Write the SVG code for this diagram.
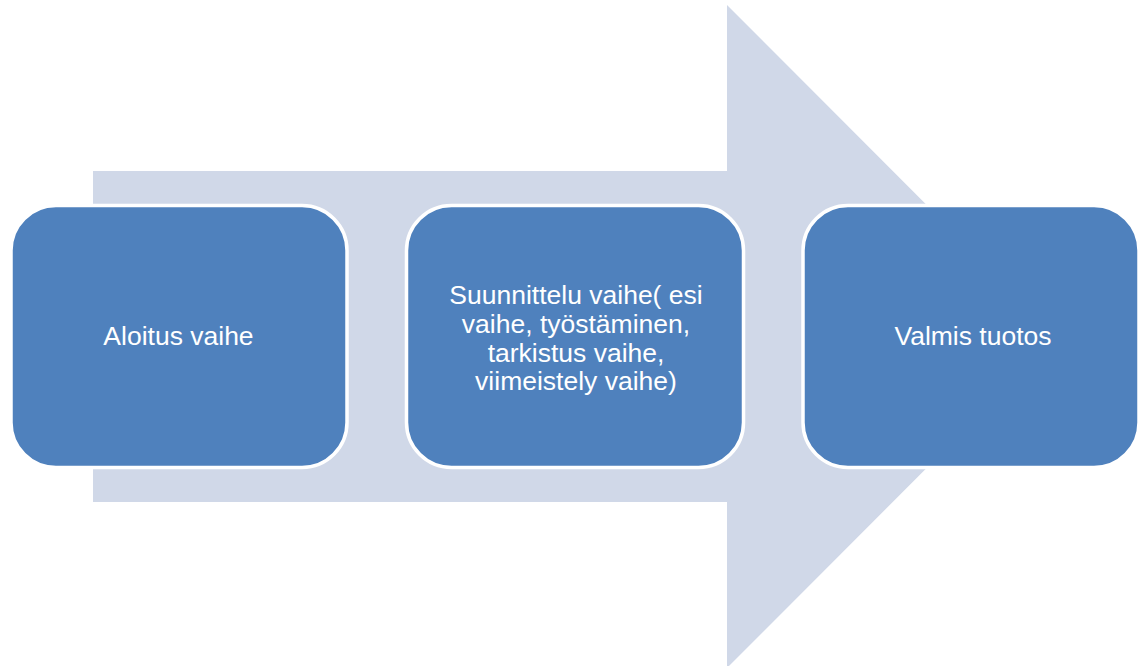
<svg xmlns="http://www.w3.org/2000/svg" width="1141" height="666" viewBox="0 0 1141 666">
<style>
.box{fill:#4F81BD;stroke:#FFFFFF;stroke-width:3.5}
.t{font-family:"Liberation Sans",Arial,sans-serif;font-size:26.5px;fill:#FFFFFF;text-anchor:middle}
</style>
<rect width="1141" height="666" fill="#FFFFFF"/>
<g id="arrow">
<polygon points="93,171 727,171 727,5 1058,336.5 727,668 727,502 93,502" fill="#D0D8E8"/>
</g>
<g id="node1">
<rect class="box" x="11" y="205.5" width="336" height="262" rx="45"/>
<text class="t" x="178.5" y="345">Aloitus vaihe</text>
</g>
<g id="node2">
<rect class="box" x="406.5" y="205.5" width="337" height="262" rx="45"/>
<text class="t" x="576" y="304">Suunnittelu vaihe( esi</text>
<text class="t" x="576" y="333">vaihe, työstäminen,</text>
<text class="t" x="576" y="361.5">tarkistus vaihe,</text>
<text class="t" x="576" y="390">viimeistely vaihe)</text>
</g>
<g id="node3">
<rect class="box" x="803" y="205.5" width="336" height="262" rx="45"/>
<text class="t" x="973" y="345">Valmis tuotos</text>
</g>
<g id="connectors"></g>
</svg>
